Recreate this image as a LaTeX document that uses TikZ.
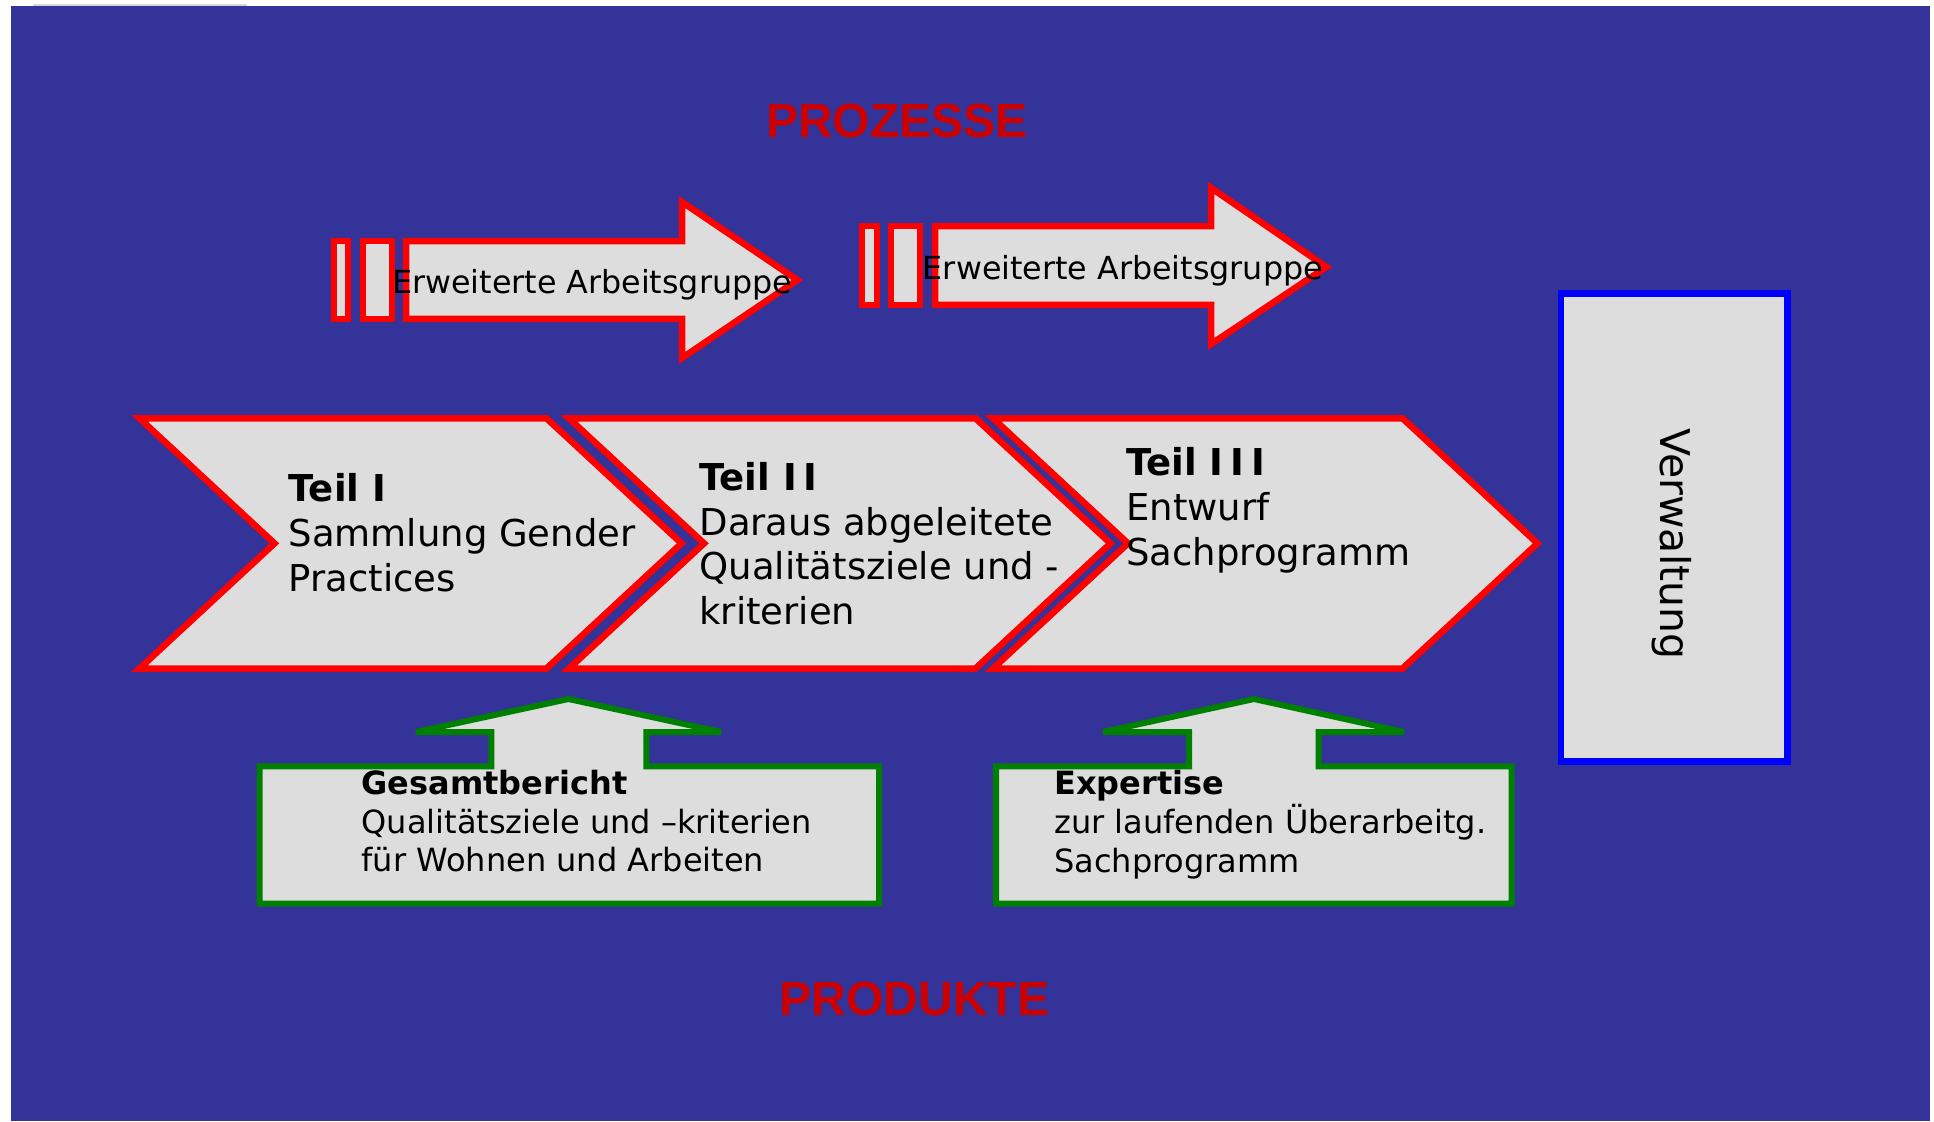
\documentclass[tikz,border=0pt]{standalone}
\usepackage{fontspec}
\setmainfont{DejaVu Sans}
\newfontfamily\headfont{Liberation Sans}
\definecolor{bgblue}{RGB}{51,51,153}
\definecolor{shapegray}{RGB}{221,221,221}
\definecolor{outred}{RGB}{255,0,0}
\definecolor{titlered}{RGB}{204,0,0}
\definecolor{outgreen}{RGB}{0,128,0}
\definecolor{outblue}{RGB}{0,0,255}
\definecolor{edgegray}{RGB}{215,215,215}
\tikzset{
  redshape/.style={fill=shapegray, draw=outred, line width=6.5pt, line join=miter},
  greenshape/.style={fill=shapegray, draw=outgreen, line width=6pt, line join=miter, miter limit=4},
  blueshape/.style={fill=shapegray, draw=outblue, line width=6.5pt, line join=miter},
  chevtext/.style={anchor=base west, inner sep=0pt, align=left, font=\fontsize{37pt}{44.6pt}\selectfont},
  greentext/.style={anchor=base west, inner sep=0pt, align=left, font=\fontsize{32pt}{38.7pt}\selectfont},
  arrowtext/.style={anchor=base west, inner sep=0pt, font=\fontsize{31.75pt}{38pt}\selectfont},
  titletext/.style={anchor=base west, inner sep=0pt, text=titlered, font=\headfont\bfseries\fontsize{48pt}{58pt}\selectfont}
}
\begin{document}
\begin{tikzpicture}[x=1pt, y=-1pt]
\useasboundingbox (0,0) rectangle (1934,1121);
\fill[white] (0,0) rectangle (1934,1121);
\fill[bgblue] (11,6) rectangle (1930,1121);
\fill[edgegray] (33,4) rectangle (247,6.5);

% titles
\node[titletext] (prozesse) at (766,137.7) {PROZESSE};
\node[titletext] (produkte) at (779.5,1015) {PRODUKTE};

% upper block arrows
\draw[redshape] (334.2,241.2) rectangle (347.8,318.8);
\draw[redshape] (363.2,241.2) rectangle (391.8,318.8);
\draw[redshape] (406.2,241.2) -- (682,241.2) -- (682,202) -- (797.4,280) -- (682,358) -- (682,318.8) -- (406.2,318.8) -- cycle;
\node[arrowtext] (ag1) at (392,293.3) {Erweiterte Arbeitsgruppe};

\draw[redshape] (862.2,226.2) rectangle (876.8,304.8);
\draw[redshape] (891.2,226.2) rectangle (919.8,304.8);
\draw[redshape] (935.2,226.2) -- (1211.2,226.2) -- (1211.2,188) -- (1326.4,267) -- (1211.2,344) -- (1211.2,304.8) -- (935.2,304.8) -- cycle;
\node[arrowtext] (ag2) at (922.7,279.3) {Erweiterte Arbeitsgruppe};

% chevrons
\draw[redshape] (139.5,418.3) -- (546.5,418.3) -- (681.5,543.4) -- (546.5,668.5) -- (139.5,668.5) -- (274.5,543.4) -- cycle;
\draw[redshape] (569,418.3) -- (975.5,418.3) -- (1110.5,543.4) -- (975.5,668.5) -- (569,668.5) -- (704,543.4) -- cycle;
\draw[redshape] (993,418.3) -- (1402.5,418.3) -- (1537.5,543.4) -- (1402.5,668.5) -- (993,668.5) -- (1128,543.4) -- cycle;

% multi-line nodes: base anchor sits on the last line
\node[chevtext] (teil1) at (288.4,591) {\textbf{Teil I}\\Sammlung Gender\\Practices};
\node[chevtext] (teil2) at (699.3,624.3) {\textbf{Teil I\kern7pt I}\\Daraus abgeleitete\\Qualitätsziele und -\\kriterien};
\node[chevtext] (teil3) at (1126,565) {\textbf{Teil I\kern7pt I\kern7pt I}\\Entwurf\\Sachprogramm};

% Verwaltung
\draw[blueshape] (1561,293.3) rectangle (1787.5,761.7);
\node[rotate=-90, anchor=base, inner sep=0pt, font=\fontsize{41pt}{49pt}\selectfont] (verw) at (1660,544) {Verwaltung};

% green product arrows
\draw[greenshape] (259.5,766.3) -- (491.3,766.3) -- (491.3,732) -- (416,732) -- (568.5,699) -- (721,732) -- (646.3,732) -- (646.3,766.3) -- (879,766.3) -- (879,903.7) -- (259.5,903.7) -- cycle;
\node[greentext] (gesamt) at (361.5,871.7) {\textbf{Gesamtbericht}\\Qualitätsziele und –kriterien\\für Wohnen und Arbeiten};

\draw[greenshape] (996,766.3) -- (1189,766.3) -- (1189,732) -- (1103,732) -- (1254,699) -- (1404,732) -- (1318.7,732) -- (1318.7,766.3) -- (1511.5,766.3) -- (1511.5,903.7) -- (996,903.7) -- cycle;
\node[greentext] (expertise) at (1054,872) {\textbf{Expertise}\\zur laufenden Überarbeitg.\\Sachprogramm};
\end{tikzpicture}
\end{document}
